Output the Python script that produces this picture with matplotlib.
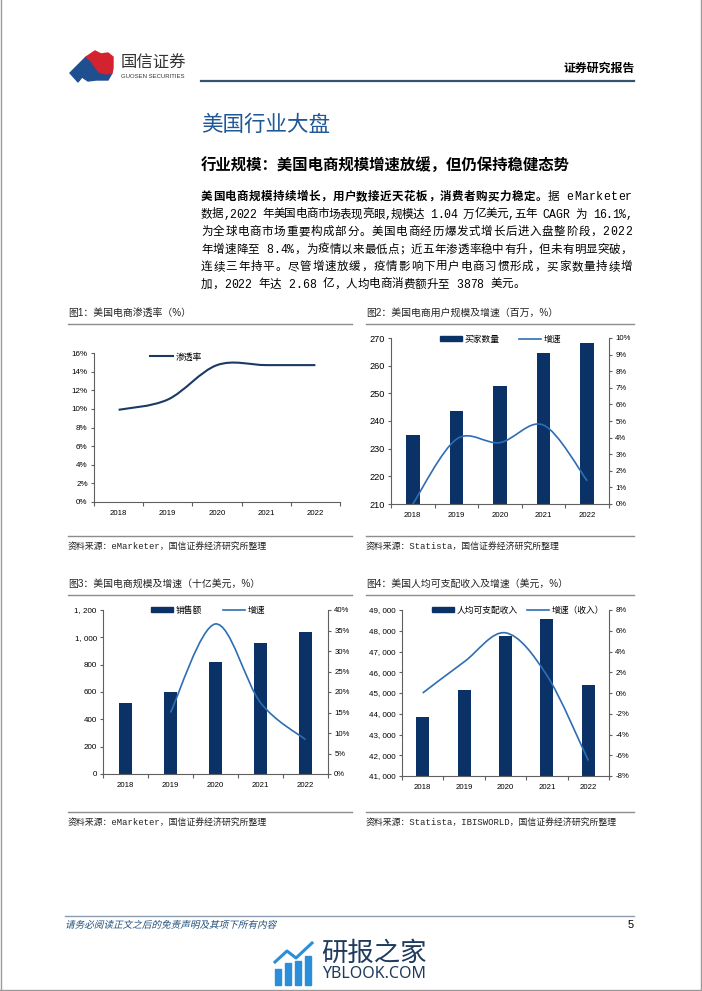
import numpy as np
import matplotlib
matplotlib.use("Agg")
import matplotlib.pyplot as plt
from matplotlib.path import Path
from matplotlib.patches import PathPatch, Polygon, Rectangle, Patch
from matplotlib.lines import Line2D
from matplotlib.ticker import FixedLocator, FuncFormatter
from matplotlib.textpath import TextPath
from matplotlib.font_manager import FontProperties
from matplotlib.transforms import Affine2D

plt.rcParams['font.family'] = ['Liberation Sans', 'Noto Sans CJK SC']

# ---- data ----
years = ['2018', '2019', '2020', '2021', '2022']

penetration = [9.9, 11.0, 14.7, 14.7, 14.7]            # 图1 渗透率 %

buyers = [234.8, 243.7, 252.6, 264.6, 268.2]            # 图2 买家数量 百万
buyers_growth = [0.0, 3.9, 3.7, 4.75, 1.4]              # 图2 增速 %

sales = [520, 598, 817, 959, 1040]                      # 图3 销售额 十亿美元
sales_growth = [None, 15.0, 36.6, 17.4, 8.4]            # 图3 增速 %

income = [43850, 45140, 47750, 48550, 45380]            # 图4 人均可支配收入 美元
income_growth = [0.0, 3.0, 5.8, 1.7, -6.5]              # 图4 增速（收入）%

NAVY = '#0B3266'
BLUE = '#2E6DB4'
SPINE = '#606060'
W, H = 702, 991

fig = plt.figure(figsize=(W / 100, H / 100), dpi=100)
renderer = fig.canvas.get_renderer()


def fx(x):
    return x / W


def fy(y):
    return 1 - y / H


def ftext(x, y, s, **kw):
    kw.setdefault('va', 'center')
    return fig.text(fx(x), fy(y), s, **kw)


def fline(x0, x1, y, color, lw):
    fig.add_artist(Line2D([fx(x0), fx(x1)], [fy(y), fy(y)], color=color, lw=lw,
                          transform=fig.transFigure))


def add_axes(left, right, top, bottom):
    return fig.add_axes([fx(left), fy(bottom), fx(right) - fx(left), (bottom - top) / H])


_widths = {}


def char_width(c, weight, size, family):
    key = (c, weight, size)
    if key not in _widths:
        def w(s):
            t = fig.text(0, 0, s, fontsize=size, fontweight=weight, family=family)
            v = t.get_window_extent(renderer).width
            t.remove()
            return v
        _widths[key] = w('|' + c + '|') - w('||')
    return _widths[key]


def justified(x0, x1, y, segments, size, family, stretch=True):
    chars = [(c, wt) for text, wt in segments for c in text]
    widths = [char_width(c, wt, size, family) for c, wt in chars]
    gap = (x1 - x0 - sum(widths)) / (len(chars) - 1) if stretch else 0
    xpos = x0
    for (c, wt), wd in zip(chars, widths):
        if c != ' ':
            fig.text(fx(xpos), fy(y), c, fontsize=size, fontweight=wt, family=family,
                     va='center')
        xpos += wd + gap


def smooth(ax, xs, ys, color, lw):
    # excel-like smoothed line through the points (bezier control points)
    pts = [(x, y) for x, y in zip(xs, ys) if y is not None]
    pts = np.array(pts, dtype=float)
    n = len(pts)
    verts = [tuple(pts[0])]
    codes = [Path.MOVETO]
    for i in range(n - 1):
        p0 = pts[i - 1] if i > 0 else pts[i]
        p1, p2 = pts[i], pts[i + 1]
        p3 = pts[i + 2] if i + 2 < n else pts[i + 1]
        verts += [tuple(p1 + (p2 - p0) / 6), tuple(p2 - (p3 - p1) / 6), tuple(p2)]
        codes += [Path.CURVE4] * 3
    ax.add_patch(PathPatch(Path(verts, codes), fill=False, edgecolor=color, lw=lw,
                           capstyle='butt'))


def style_axes(ax, right=None):
    ax.set_xlim(-0.5, len(years) - 0.5)
    for s in ['top', 'right']:
        ax.spines[s].set_visible(False)
    for s in ['left', 'bottom']:
        ax.spines[s].set_color(SPINE)
        ax.spines[s].set_linewidth(0.8)
    ax.set_xticks(range(len(years)))
    ax.set_xticklabels(years)
    ax.xaxis.set_minor_locator(FixedLocator(np.arange(-0.5, len(years), 1)))
    ax.tick_params(axis='x', which='major', length=0, pad=6, labelsize=5.6)
    ax.tick_params(axis='x', which='minor', length=3, color=SPINE, width=0.8)
    ax.tick_params(axis='y', length=2.5, color=SPINE, width=0.8, labelsize=5.8, pad=2)
    if right is not None:
        right.spines['top'].set_visible(False)
        right.spines['left'].set_visible(False)
        right.spines['bottom'].set_visible(False)
        right.spines['right'].set_color(SPINE)
        right.spines['right'].set_linewidth(0.8)
        right.tick_params(axis='y', length=2.5, color=SPINE, width=0.8, labelsize=5.6, pad=2)


def comma(v, pos):
    return f'{v:,.0f}'.replace(',', ', ')


pct = FuncFormatter(lambda v, p: f'{v:.0f}%')
x = np.arange(len(years))

# ---- page frame ----
for xs, ys in [([0.5, 0.5], [0, H]), ([W - 1.5, W - 1.5], [0, H]), ([0, W], [H - 1.5, H - 1.5])]:
    fig.add_artist(Line2D([fx(v) for v in xs], [fy(v) for v in ys], color='#9a9a9a', lw=1,
                          transform=fig.transFigure))

# ---- header ----
blue_logo = [(70, 73), (86, 57), (91, 61), (95, 67), (99, 72), (106, 74), (112, 73),
             (108, 80), (96, 80), (88, 81), (82, 77), (78, 82)]
red_logo = [(86, 57), (95, 51), (101, 54), (108, 53), (113, 57), (113, 68), (112, 73),
            (106, 74), (99, 72), (95, 67), (91, 61)]
fig.add_artist(Polygon([(fx(a), fy(b)) for a, b in blue_logo], closed=True, color='#1F4F8F',
                       transform=fig.transFigure))
fig.add_artist(Polygon([(fx(a), fy(b)) for a, b in red_logo], closed=True, color='#D2232E',
                       transform=fig.transFigure))
ftext(121, 63, '国信证券', fontsize=11.8, color='#333333', family=['Noto Sans CJK SC'])
ftext(121, 77, 'GUOSEN SECURITIES', fontsize=4.3, color='#333333')
ftext(635, 68, '证券研究报告', fontsize=8.6, fontweight='bold', ha='right',
      family=['Noto Sans CJK SC'])
fline(201, 634, 80.5, '#34536f', 1.6)

# ---- section text ----
ftext(201, 125, '美国行业大盘', fontsize=15.5, color='#1E5897', family=['Noto Sans CJK SC'],
      fontweight='medium')
ftext(201, 165, '行业规模：美国电商规模增速放缓，但仍保持稳健态势', fontsize=11.1,
      fontweight='bold', family=['Noto Sans CJK SC'])

body_font = ['Liberation Mono', 'Noto Sans CJK SC']
body_lines = [
    [('美国电商规模持续增长，用户数接近天花板，消费者购买力稳定。', 'bold'), ('据 eMarketer', 'normal')],
    [('数据,2022 年美国电商市场表现亮眼,规模达 1.04 万亿美元,五年 CAGR 为 16.1%,', 'normal')],
    [('为全球电商市场重要构成部分。美国电商经历爆发式增长后进入盘整阶段，2022', 'normal')],
    [('年增速降至 8.4%，为疫情以来最低点；近五年渗透率稳中有升，但未有明显突破，', 'normal')],
    [('连续三年持平。尽管增速放缓，疫情影响下用户电商习惯形成，买家数量持续增', 'normal')],
    [('加，2022 年达 2.68 亿，人均电商消费额升至 3878 美元。', 'normal')],
]
for i, segs in enumerate(body_lines):
    justified(201, 632, 197 + i * 17.5, segs, 8.3, body_font, stretch=i < len(body_lines) - 1)

# ---- figure captions and source lines ----
src_font = ['Liberation Mono', 'Noto Sans CJK SC']
panels = [
    (68, 352, 313, 547, '图1：美国电商渗透率（%）', '资料来源：eMarketer，国信证券经济研究所整理'),
    (366, 634, 313, 547, '图2：美国电商用户规模及增速（百万，%）', '资料来源：Statista，国信证券经济研究所整理'),
    (68, 352, 584, 823, '图3：美国电商规模及增速（十亿美元，%）', '资料来源：eMarketer，国信证券经济研究所整理'),
    (366, 634, 584, 823, '图4：美国人均可支配收入及增速（美元，%）',
     '资料来源：Statista，IBISWORLD，国信证券经济研究所整理'),
]
for x0, x1, ty, sy, title, src in panels:
    ftext(x0, ty, title, fontsize=7.1, color='#222222')
    fline(x0, x1, ty + 11, '#8c8c8c', 1.0)
    fline(x0, x1, sy - 11, '#8c8c8c', 1.0)
    ftext(x0, sy, src, fontsize=6.4, color='#222222', family=src_font)

# ---- 图1 ----
ax1 = add_axes(94, 340, 353, 502)
smooth(ax1, x, penetration, '#1B3A63', 1.5)
ax1.set_ylim(0, 16)
ax1.set_yticks(range(0, 17, 2))
ax1.yaxis.set_major_formatter(pct)
style_axes(ax1)
ax1.legend([Line2D([], [], color='#1B3A63', lw=1.5)], ['渗透率'], loc='center left',
           bbox_to_anchor=(fx(146), fy(357)), bbox_transform=fig.transFigure,
           frameon=False, fontsize=6.3, handlelength=2.6, handletextpad=0.3, borderpad=0)

# ---- 图2 ----
ax2 = add_axes(391, 609, 338, 504)
ax2.bar(x, [b - 210 for b in buyers], bottom=210, width=0.31, color=NAVY)
ax2.set_ylim(210, 270)
ax2.set_yticks(range(210, 271, 10))
ax2r = ax2.twinx()
smooth(ax2r, x, buyers_growth, BLUE, 1.2)
ax2r.set_ylim(0, 10)
ax2r.set_yticks(range(0, 11))
ax2r.yaxis.set_major_formatter(pct)
style_axes(ax2, ax2r)
ax2.tick_params(axis='y', labelsize=6.6)
ax2r.legend([Patch(color=NAVY), Line2D([], [], color=BLUE, lw=1.2)], ['买家数量', '增速'],
            loc='center left', bbox_to_anchor=(fx(436), fy(339)), bbox_transform=fig.transFigure,
            ncol=2, frameon=False, fontsize=6.3, handlelength=2.5, handleheight=0.5,
            handletextpad=0.3, columnspacing=2.2, borderpad=0)

# ---- 图3 ----
ax3 = add_axes(103, 328, 610, 774)
ax3.bar(x, sales, width=0.31, color=NAVY)
ax3.set_ylim(0, 1200)
ax3.set_yticks(range(0, 1201, 200))
ax3.yaxis.set_major_formatter(FuncFormatter(comma))
ax3r = ax3.twinx()
smooth(ax3r, x, sales_growth, BLUE, 1.2)
ax3r.set_ylim(0, 40)
ax3r.set_yticks(range(0, 41, 5))
ax3r.yaxis.set_major_formatter(pct)
style_axes(ax3, ax3r)
ax3r.legend([Patch(color=NAVY), Line2D([], [], color=BLUE, lw=1.2)], ['销售额', '增速'],
            loc='center left', bbox_to_anchor=(fx(147), fy(610)), bbox_transform=fig.transFigure,
            ncol=2, frameon=False, fontsize=6.3, handlelength=2.5, handleheight=0.5,
            handletextpad=0.3, columnspacing=2.4, borderpad=0)

# ---- 图4 ----
ax4 = add_axes(402, 609, 610, 776)
ax4.bar(x, [v - 41000 for v in income], bottom=41000, width=0.31, color=NAVY)
ax4.set_ylim(41000, 49000)
ax4.set_yticks(range(41000, 49001, 1000))
ax4.yaxis.set_major_formatter(FuncFormatter(comma))
ax4r = ax4.twinx()
smooth(ax4r, x, income_growth, BLUE, 1.2)
ax4r.set_ylim(-8, 8)
ax4r.set_yticks(range(-8, 9, 2))
ax4r.yaxis.set_major_formatter(pct)
style_axes(ax4, ax4r)
ax4r.legend([Patch(color=NAVY), Line2D([], [], color=BLUE, lw=1.2)], ['人均可支配收入', '增速（收入）'],
            loc='center left', bbox_to_anchor=(fx(428), fy(610)), bbox_transform=fig.transFigure,
            ncol=2, frameon=False, fontsize=6.3, handlelength=2.5, handleheight=0.5,
            handletextpad=0.3, columnspacing=1.0, borderpad=0)

# ---- footer ----
fline(65, 634, 916, '#8c9bb0', 1.0)
# italic look for the disclaimer: slanted text path (the CJK font has no italic face)
foot = TextPath((0, 0), '请务必阅读正文之后的免责声明及其项下所有内容', size=9.6,
                prop=FontProperties(family='Noto Sans CJK SC'))
fig.add_artist(PathPatch(foot, color='#1F4E79', lw=0,
                         transform=Affine2D().skew_deg(14, 0).translate(65, H - 928)))
ftext(634, 925, '5', fontsize=8, ha='right')

# watermark
for bx, top in [(275, 969), (285, 963), (295, 961), (305, 956)]:
    fig.add_artist(Rectangle((fx(bx), fy(985)), 5.5 / W, (985 - top) / H, color='#2B8ED8',
                             transform=fig.transFigure))
fig.add_artist(Line2D([fx(v) for v in [275, 287, 296, 312]], [fy(v) for v in [962, 951, 958, 943]],
                      color='#2B8ED8', lw=2.2, transform=fig.transFigure))
ftext(321, 953, '研报之家', fontsize=19, color='#1E3B5E', family=['Noto Sans CJK SC'])
ftext(322, 974, 'YBLOOK.COM', fontsize=11.5, color='#1E3B5E', family=['Noto Sans'])

fig.savefig('out.png', dpi=100)
